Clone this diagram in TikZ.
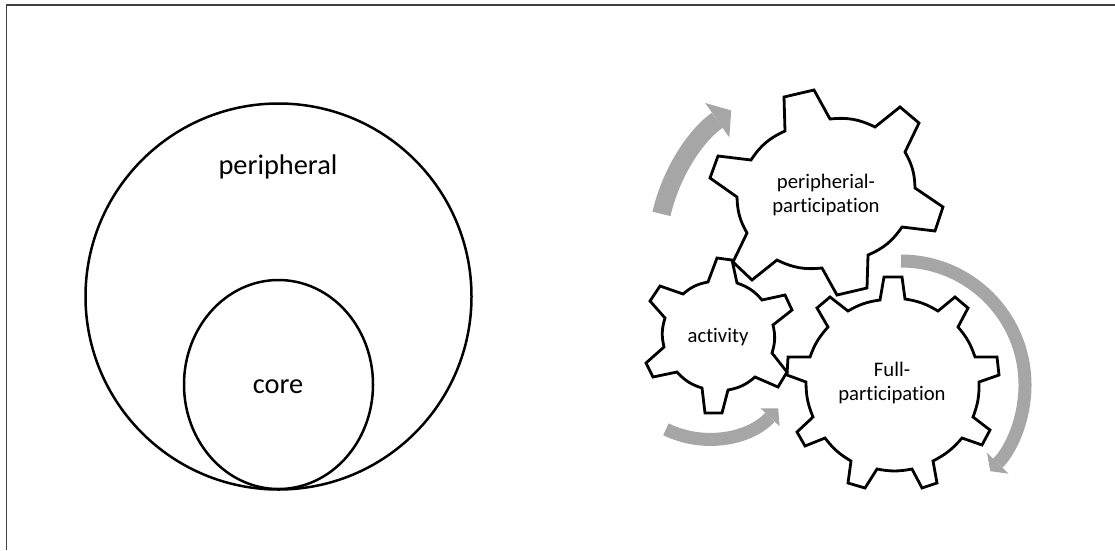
\documentclass[tikz,border=0pt]{standalone}
\usepackage{fontspec}
\setmainfont{Carlito}[Ligatures=NoCommon]
\usetikzlibrary{arrows.meta}
\definecolor{bandgray}{RGB}{166,166,166}
\begin{document}
\begin{tikzpicture}[x=1pt,y=-1pt,
  gear/.style={draw=black, line width=2.8pt, line join=miter},
  ring/.style={draw=black, line width=2.5pt},
  band/.style={draw=bandgray, line width=#1},
  bigtext/.style={font=\fontsize{28.4}{34}\selectfont, inner sep=0pt},
  geartext/.style={font=\fontsize{20.7}{24}\selectfont, align=center, inner sep=0pt},
]
\useasboundingbox (0,0) rectangle (1115,550);

% page frame
\draw[line width=1.6pt, black!75] (1115,5) -- (6.5,5) -- (6.5,550);

% nested circles
\draw[ring] (278.5,296.5) circle[radius=193];
\draw[ring] (278.5,384.5) ellipse[x radius=94.5, y radius=104.5];
\node[bigtext, anchor=base] (peri) at (278,174) {peripheral};
\node[bigtext, anchor=base] (core) at (278,393) {core};

% curved grey arrows
\draw[band=18.5pt, -{Triangle[width=42pt,length=17pt,line width=0pt]}]
  (831,253) ++(193:174) arc[start angle=193, end angle=235, radius=174];
\draw[band=13pt, -{Triangle[width=30pt,length=11pt,line width=0pt]}]
  (901,385) ++(-90:124) arc[start angle=-90, end angle=44, radius=124];
\draw[band=13pt, -{Triangle[width=26pt,length=12pt,line width=0pt]}]
  (708,343) ++(116:96) arc[start angle=116, end angle=43, radius=96];

% gear: peripherial participation
\draw[gear] (784,97) -- (814,90) -- (830,119) to[bend left=16] (875,127)
  -- (900,107) -- (919,123) -- (905,152) to[bend left=14] (915,188)
  -- (943,207) -- (935,231) -- (902,227) to[bend left=16] (868,255)
  -- (867,288) -- (837,295) -- (822,268) to[bend left=16] (777,260)
  -- (752,280) -- (733,262) -- (747,233) to[bend left=14] (737,197)
  -- (710,178) -- (718,156) -- (751,160) to[bend left=16] (785,131) -- cycle;

% gear: activity
\draw[gear] (717,258) -- (732,260) -- (737,283) to[bend left=15] (762,300)
  -- (785,295) -- (792,310) -- (773,325) to[bend left=15] (772,353)
  -- (787,372) -- (778,387) -- (755,377) to[bend left=15] (728,390)
  -- (722,413) -- (705,413) -- (702,388) to[bend left=15] (677,372)
  -- (653,377) -- (646,363) -- (664,347) to[bend left=15] (665,318)
  -- (650,301) -- (660,286) -- (683,294) to[bend left=15] (708,282) -- cycle;

% gear: full participation
\draw[gear] (884,277) -- (902,277) -- (905,299) to[bend left=11] (938,311)
  -- (955,297) -- (968,308) -- (958,327) to[bend left=11] (975,357)
  -- (997,357) -- (999,375) -- (979,382) to[bend left=11] (973,417)
  -- (990,430) -- (982,445) -- (962,438) to[bend left=11] (933,461)
  -- (937,483) -- (922,488) -- (912,469) to[bend left=11] (877,469)
  -- (865,488) -- (848,483) -- (851,461) to[bend left=11] (825,438)
  -- (805,446) -- (797,432) -- (813,417) to[bend left=11] (806,382)
  -- (787,375) -- (788,357) -- (810,357) to[bend left=11] (828,327)
  -- (817,308) -- (830,297) -- (848,311) to[bend left=11] (880,300) -- cycle;

% gear labels (base anchor sits on the last line)
\node[geartext, anchor=base] (pptext) at (826,212) {peripherial-\\participation};
\node[geartext, anchor=base] (acttext) at (718,342) {activity};
\node[geartext, anchor=base] (fulltext) at (892,400) {Full-\\participation};
\end{tikzpicture}
\end{document}
